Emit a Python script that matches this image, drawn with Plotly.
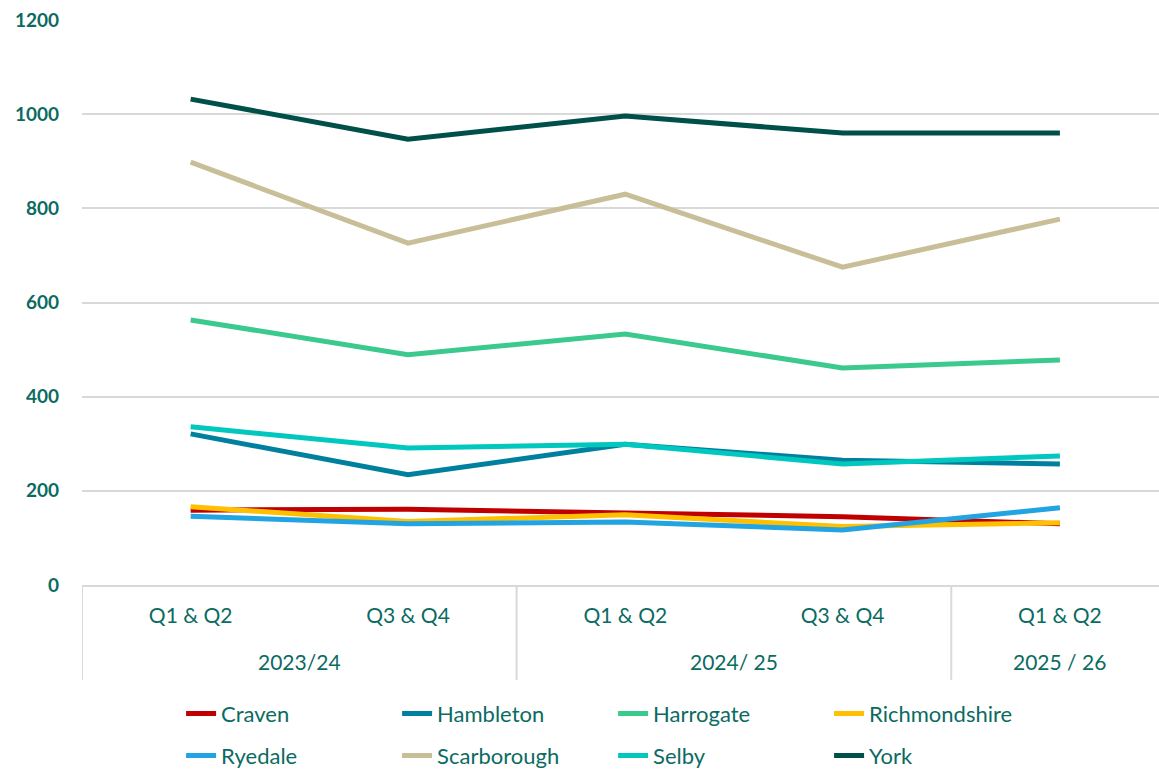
import plotly.graph_objects as go

years = ["2023/24", "2023/24", "2024/ 25", "2024/ 25", "2025 / 26"]
halves = ["Q1 & Q2", "Q3 & Q4", "Q1 & Q2", "Q3 & Q4", "Q1 & Q2"]

craven = [159, 161, 153, 145, 130]
hambleton = [321, 234, 299, 265, 257]
harrogate = [563, 489, 533, 461, 478]
richmondshire = [166, 135, 149, 124, 132]
ryedale = [146, 130, 134, 117, 164]
scarborough = [898, 726, 830, 675, 777]
selby = [336, 291, 299, 257, 274]
york = [1032, 947, 996, 960, 960]

series = [
    ("Craven", craven, "#C00000", "legend"),
    ("Hambleton", hambleton, "#00809F", "legend"),
    ("Harrogate", harrogate, "#3CC98D", "legend"),
    ("Richmondshire", richmondshire, "#FFC000", "legend"),
    ("Ryedale", ryedale, "#22A3E2", "legend2"),
    ("Scarborough", scarborough, "#C8BF99", "legend2"),
    ("Selby", selby, "#00C8BE", "legend2"),
    ("York", york, "#00504A", "legend2"),
]

TEXT = "#0B6B62"
GRID = "#D9D9D9"
FONT = "Lato"

xpos = list(range(len(halves)))

fig = go.Figure()
for name, vals, color, lg in series:
    fig.add_trace(go.Scatter(
        x=xpos, y=vals, name=name, mode="lines",
        line=dict(color=color, width=5), legend=lg,
    ))

# year group labels and dividers
groups = []
for i, y in enumerate(years):
    if not groups or groups[-1][0] != y:
        groups.append([y, i, i])
    else:
        groups[-1][2] = i
for y, a, b in groups:
    fig.add_annotation(x=(a + b) / 2, y=-0.136, xref="x", yref="paper",
                       text=y, showarrow=False, yanchor="middle",
                       font=dict(family=FONT, size=21, color=TEXT))
    fig.add_shape(type="line", x0=a - 0.5, x1=a - 0.5, y0=0, y1=-0.168,
                  xref="x", yref="paper", line=dict(color=GRID, width=2))

leg_common = dict(
    orientation="h", xanchor="left", yanchor="middle",
    font=dict(family=FONT, size=22, color=TEXT),
    entrywidth=171, entrywidthmode="pixels",
    bgcolor="rgba(0,0,0,0)", itemwidth=30, tracegroupgap=0,
)

fig.update_layout(
    width=1159, height=769,
    margin=dict(l=82, r=0, t=20, b=184, autoexpand=False),
    plot_bgcolor="white", paper_bgcolor="white",
    font=dict(family=FONT, color=TEXT),
    showlegend=True,
    legend=dict(x=0.092, y=-0.228, **leg_common),
    legend2=dict(x=0.092, y=-0.302, **leg_common),
    xaxis=dict(
        range=[-0.5, 4.456], automargin=False,
        tickmode="array", tickvals=xpos, ticktext=halves,
        showgrid=False, zeroline=False,
        showline=True, linecolor=GRID, linewidth=2,
        tickfont=dict(family=FONT, size=21, color=TEXT),
        ticks="", ticklabelstandoff=11,
    ),
    yaxis=dict(
        range=[0, 1200], dtick=200, automargin=False,
        showgrid=True, gridcolor=GRID, gridwidth=2,
        zeroline=False, showline=False,
        tickfont=dict(family=FONT, size=19, color=TEXT, weight="bold"),
        ticklabelstandoff=22,
    ),
)

fig.write_html(
    "out.html",
    config={"displayModeBar": False},
    post_script="document.body.style.margin='0';document.body.style.overflow='hidden';",
)
